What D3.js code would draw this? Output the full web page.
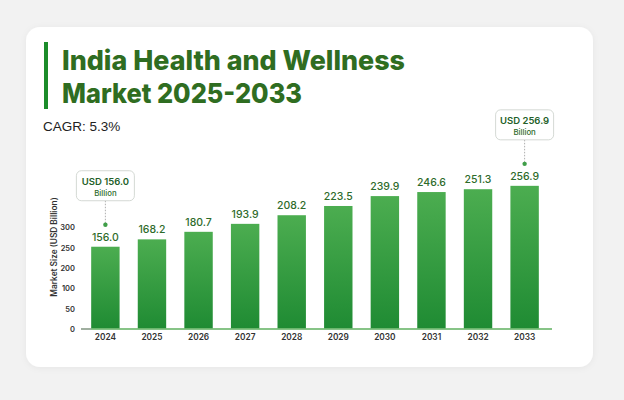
<!DOCTYPE html>
<html>
<head>
<meta charset="utf-8">
<script src="https://cdn.jsdelivr.net/npm/d3@7"></script>
<style>
  html, body { margin: 0; padding: 0; background: #f2f2f2; }
  svg { display: block; }
</style>
</head>
<body>
<svg id="chart" width="624" height="400"></svg>
<script>
// chart data
const years = ["2024", "2025", "2026", "2027", "2028", "2029", "2030", "2031", "2032", "2033"];
const values = [156.0, 168.2, 180.7, 193.9, 208.2, 223.5, 239.9, 246.6, 251.3, 256.9];
const yTickLabels = ["0", "50", "100", "200", "250", "300"];
const callouts = [
  { year: "2024", line1: "USD 156.0", line2: "Billion" },
  { year: "2033", line1: "USD 256.9", line2: "Billion" }
];
const titleLines = ["India Health and Wellness", "Market 2025-2033"];
const cagrText = "CAGR: 5.3%";

const svg = d3.select("#chart");
const base = 328.5;

// gradient for bars
const defs = svg.append("defs");
const grad = defs.append("linearGradient")
    .attr("id", "barGrad").attr("x1", 0).attr("y1", 0).attr("x2", 0).attr("y2", 1);
grad.append("stop").attr("offset", "0%").attr("stop-color", "#4cad50");
grad.append("stop").attr("offset", "100%").attr("stop-color", "#1f8b33");

const shadow = defs.append("filter").attr("id", "cardShadow")
    .attr("x", "-10%").attr("y", "-10%").attr("width", "120%").attr("height", "120%");
shadow.append("feDropShadow").attr("dx", 0).attr("dy", 1).attr("stdDeviation", 3)
    .attr("flood-color", "#000").attr("flood-opacity", 0.05);

// card
svg.append("rect")
    .attr("x", 26).attr("y", 27).attr("width", 567).attr("height", 340)
    .attr("rx", 14).attr("fill", "#ffffff").attr("filter", "url(#cardShadow)");

// title
svg.append("rect")
    .attr("x", 44).attr("y", 42).attr("width", 4).attr("height", 67)
    .attr("fill", "#1c8c2a");

const titleLen = [343, 240];
svg.selectAll(".title").data(titleLines).enter().append("text")
    .attr("class", "title")
    .attr("x", 62)
    .attr("y", (d, i) => 70 + i * 33)
    .attr("textLength", (d, i) => titleLen[i])
    .attr("lengthAdjust", "spacingAndGlyphs")
    .attr("font-family", "Inter, 'Open Sans', sans-serif")
    .attr("font-weight", 800)
    .attr("font-size", 27.5)
    .attr("fill", "#2f6d21")
    .text(d => d);

svg.append("text")
    .attr("x", 43).attr("y", 131)
    .attr("font-family", "'Liberation Sans', Arial, sans-serif")
    .attr("font-size", 13.5)
    .attr("fill", "#222")
    .text(cagrText);

// scales
const x = d3.scaleBand()
    .domain(years)
    .range([80, 550])
    .paddingInner(0.39)
    .paddingOuter(0.24);

// bar heights follow the picture, which does not start from zero
const yBar = d3.scaleLinear()
    .domain([20.5, 300])
    .range([base, base - 0.6035 * (300 - 20.5)]);

const yAxisScale = d3.scalePoint()
    .domain(yTickLabels)
    .range([329, 227.3]);

// y axis labels
const yAxis = svg.append("g")
    .attr("transform", "translate(76,0)")
    .call(d3.axisLeft(yAxisScale).tickSize(0).tickPadding(1));
yAxis.select(".domain").remove();
yAxis.selectAll("text")
    .attr("font-family", "Inter, sans-serif")
    .attr("font-size", 7.5)
    .attr("font-weight", 600)
    .attr("fill", "#333");

svg.append("text")
    .attr("transform", "translate(57,247) rotate(-90)")
    .attr("text-anchor", "middle")
    .attr("font-family", "Inter, sans-serif")
    .attr("font-size", 8.3)
    .attr("font-weight", 600)
    .attr("fill", "#333")
    .text("Market Size (USD Billion)");

// bars
svg.selectAll(".bar").data(values).enter().append("rect")
    .attr("class", "bar")
    .attr("x", (d, i) => x(years[i]))
    .attr("y", d => yBar(d))
    .attr("width", x.bandwidth())
    .attr("height", d => base - yBar(d))
    .attr("fill", "url(#barGrad)");

// baseline
svg.append("line")
    .attr("x1", 81).attr("x2", 552)
    .attr("y1", base + 0.5).attr("y2", base + 0.5)
    .attr("stroke", "#5fb05f").attr("stroke-width", 1.5);
svg.append("line")
    .attr("x1", 81).attr("x2", x(years[0]))
    .attr("y1", base + 0.5).attr("y2", base + 0.5)
    .attr("stroke", "#a8a8a8").attr("stroke-width", 1.5);

// value labels
svg.selectAll(".val").data(values).enter().append("text")
    .attr("class", "val")
    .attr("x", (d, i) => x(years[i]) + x.bandwidth() / 2)
    .attr("y", d => yBar(d) - 6)
    .attr("text-anchor", "middle")
    .attr("font-family", "Inter, sans-serif")
    .attr("font-size", 10.5)
    .attr("font-weight", 500)
    .attr("fill", "#2e6b2a")
    .text(d => d.toFixed(1));

// x axis labels
svg.selectAll(".year").data(years).enter().append("text")
    .attr("class", "year")
    .attr("x", d => x(d) + x.bandwidth() / 2)
    .attr("y", 340)
    .attr("text-anchor", "middle")
    .attr("font-family", "Inter, sans-serif")
    .attr("font-size", 8.3)
    .attr("font-weight", 600)
    .attr("fill", "#333")
    .text(d => d);

// callouts
callouts.forEach(c => {
    const v = values[years.indexOf(c.year)];
    const cx = x(c.year) + x.bandwidth() / 2;
    const top = yBar(v);
    const g = svg.append("g");
    g.append("line")
        .attr("x1", cx).attr("x2", cx)
        .attr("y1", top - 46).attr("y2", top - 22)
        .attr("stroke", "#999").attr("stroke-width", 0.8)
        .attr("stroke-dasharray", "1.5,1.5");
    g.append("circle")
        .attr("cx", cx).attr("cy", top - 22).attr("r", 2.2)
        .attr("fill", "#3f9e48");
    g.append("rect")
        .attr("x", cx - 29).attr("y", top - 76)
        .attr("width", 58).attr("height", 30)
        .attr("rx", 5)
        .attr("fill", "#fff").attr("stroke", "#c9cfc9").attr("stroke-width", 0.8);
    g.append("text")
        .attr("x", cx).attr("y", top - 62)
        .attr("text-anchor", "middle")
        .attr("font-family", "Inter, sans-serif")
        .attr("font-size", 9.5).attr("font-weight", 600)
        .attr("fill", "#245f2a")
        .text(c.line1);
    g.append("text")
        .attr("x", cx).attr("y", top - 51)
        .attr("text-anchor", "middle")
        .attr("font-family", "Inter, sans-serif")
        .attr("font-size", 7.8).attr("font-weight", 500)
        .attr("fill", "#2e6b2a")
        .text(c.line2);
});
</script>
</body>
</html>
